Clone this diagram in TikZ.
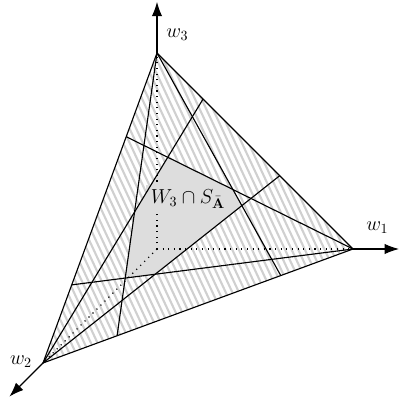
\documentclass[tikz,border=0pt]{standalone}
\usepackage{amsmath,amssymb}
\usepackage{tikz}
\usetikzlibrary{arrows.meta,calc}
\usepackage{xcolor}
\definecolor{hatchgray}{RGB}{208,208,208}
\definecolor{softgray}{RGB}{221,221,221}

\begin{document}
\begin{tikzpicture}[
    edge/.style={thick,black},
    axis/.style={thick,-{Latex[length=3.6mm,width=2.6mm]}},
    dots/.style={thick,dash pattern=on 0.8pt off 3.2pt},
    hatch/.style={line width=1.5pt,hatchgray},
    lbl/.style={font=\Large}
]
\useasboundingbox (-3.925,-3.85) rectangle (6.05,6.225);
\coordinate (o) at (0,0);
\coordinate (v1) at (4.9,0);
\coordinate (v2) at (-2.85,-2.85);
\coordinate (v3) at (0,4.9);
\coordinate (w1) at (6.05,0);
\coordinate (w2) at (-3.69,-3.69);
\coordinate (w3) at (0,6.18);
\coordinate (p12a) at ($(v2)!0.239!(v1)$);
\coordinate (p12b) at ($(v2)!0.767!(v1)$);
\coordinate (p23a) at ($(v3)!0.270!(v2)$);
\coordinate (p23b) at ($(v3)!0.748!(v2)$);
\coordinate (p13a) at ($(v3)!0.235!(v1)$);
\coordinate (p13b) at ($(v3)!0.626!(v1)$);
\begin{scope}
    \clip (v1) -- (v2) -- (v3) -- cycle;
    \foreach \x in {-2.6,-2.435,...,6.7}
        \draw[hatch] (\x,-3.5) -- ++(115:10);
\end{scope}
\fill[softgray] (intersection of v1--p23a and v2--p13a)
    -- (intersection of v1--p23a and v3--p12b)
    -- (intersection of v3--p12b and v2--p13b)
    -- (intersection of v2--p13b and v1--p23b)
    -- (intersection of v1--p23b and v3--p12a)
    -- (intersection of v3--p12a and v2--p13a) -- cycle;
\draw[dots] (o) -- (v1);
\draw[dots] (o) -- (v2);
\draw[dots] (o) -- (v3);
\node[lbl,fill=softgray] (cap) at (0.775,1.25) {$W_3\cap S_{\bar{\mathbf{A}}}$};
\draw[edge] (v3) -- (p12a);
\draw[edge] (v3) -- (p12b);
\draw[edge] (v1) -- (p23a);
\draw[edge] (v1) -- (p23b);
\draw[edge] (v2) -- (p13a);
\draw[edge] (v2) -- (p13b);
\draw[edge] (v1) -- (v2) -- (v3) -- cycle;
\draw[axis] (v1) -- (w1);
\draw[axis] (v2) -- (w2);
\draw[axis] (v3) -- (w3);
\node[lbl] (l1) at (5.51,0.525) {$w_1$};
\node[lbl] (l2) at (-3.4,-2.81) {$w_2$};
\node[lbl] (l3) at (0.51,5.37) {$w_3$};
\end{tikzpicture}
\end{document}
